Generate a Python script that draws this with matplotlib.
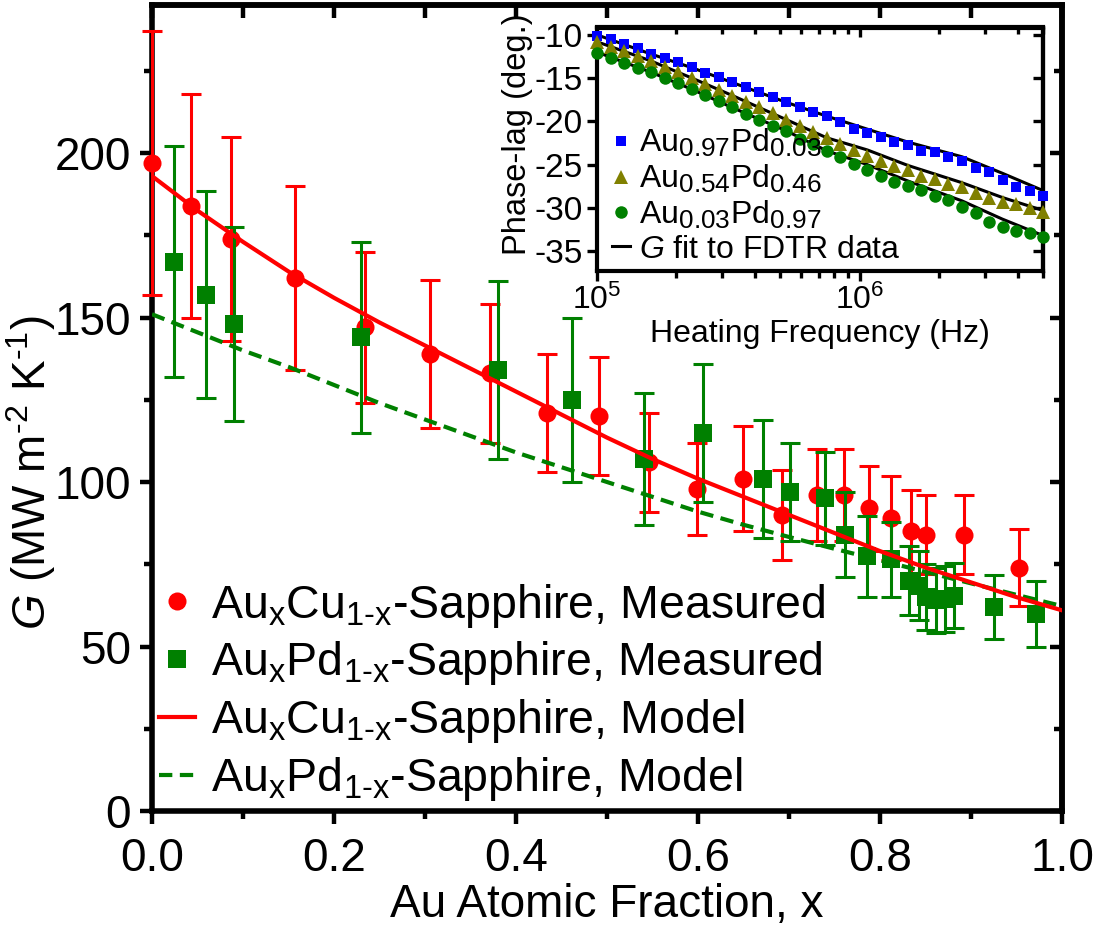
import matplotlib
matplotlib.use('Agg')
import matplotlib.pyplot as plt
import matplotlib._mathtext as _mt
from matplotlib.ticker import MultipleLocator, LogLocator, NullFormatter, LogFormatterMathtext, FormatStrFormatter

plt.rcParams['font.family'] = ['Liberation Sans', 'DejaVu Sans']
plt.rcParams['mathtext.fontset'] = 'custom'
plt.rcParams['mathtext.rm'] = 'Liberation Sans'
plt.rcParams['mathtext.it'] = 'Liberation Sans:italic'
plt.rcParams['mathtext.bf'] = 'Liberation Sans:bold'
plt.rcParams['mathtext.sf'] = 'Liberation Sans'
plt.rcParams['axes.unicode_minus'] = False

# ---------------- main panel data ----------------
cu_x = [0.000, 0.043, 0.087, 0.157, 0.234, 0.305, 0.371, 0.434, 0.491, 0.546, 0.599,
        0.649, 0.692, 0.731, 0.760, 0.788, 0.812, 0.834, 0.850, 0.892, 0.953]
cu_g = [197, 184, 174, 162, 147, 139, 133, 121, 120, 106, 98,
        101, 90, 96, 96, 92, 89, 85, 84, 84, 74]
cu_err = [40, 34, 31, 28, 23, 22.5, 21, 18, 18, 15, 14,
          16, 13.7, 14, 14, 13, 12.7, 12.6, 12, 12, 11.7]

pd_x = [0.024, 0.059, 0.090, 0.230, 0.380, 0.461, 0.541, 0.605, 0.671, 0.701, 0.740,
        0.761, 0.786, 0.812, 0.832, 0.843, 0.851, 0.861, 0.871, 0.881, 0.925, 0.971]
pd_g = [167, 157, 148, 144, 134, 125, 107, 115, 101, 97, 95,
        84, 77.5, 76.5, 70, 68.5, 65, 64, 64.5, 65.5, 62, 60]
pd_err = [35, 31.5, 29.5, 29, 27, 25, 20, 21, 18, 15, 14,
          13, 12.3, 11.4, 10.5, 10.5, 10, 10, 10, 10, 9.7, 10]

model_x = [0.00, 0.05, 0.10, 0.15, 0.20, 0.25, 0.30, 0.35, 0.40, 0.45, 0.50,
           0.55, 0.60, 0.65, 0.70, 0.75, 0.80, 0.85, 0.90, 0.95, 1.00]
cu_model = [193, 182.5, 173, 164, 156, 148.5, 141.5, 134.5, 127.5, 120.5, 113.5,
            107, 101, 95.5, 90, 84.5, 79, 74, 69.5, 65, 61]
pd_model = [151, 145.5, 140, 135, 129.5, 124, 119, 114, 109, 104.5, 100,
            95.5, 91, 87, 83.3, 79.7, 76.2, 72.7, 69.2, 65.7, 62.3]

# ---------------- inset data ----------------
freq_hz = [1.000e5, 1.126e5, 1.268e5, 1.427e5, 1.607e5, 1.809e5, 2.037e5, 2.293e5,
           2.582e5, 2.907e5, 3.273e5, 3.685e5, 4.149e5, 4.671e5, 5.259e5, 5.921e5,
           6.667e5, 7.506e5, 8.451e5, 9.515e5, 1.071e6, 1.206e6, 1.358e6, 1.529e6,
           1.722e6, 1.938e6, 2.182e6, 2.457e6, 2.767e6, 3.115e6, 3.507e6, 3.949e6,
           4.446e6, 5.006e6]
phase_au97 = [-10.19, -10.46, -11.08, -11.54, -12.23, -12.69, -13.15, -13.77, -14.42,
              -14.92, -15.50, -16.04, -16.65, -17.23, -17.80, -18.38, -18.92, -19.42,
              -20.11, -20.84, -21.34, -21.80, -22.38, -22.76, -23.38, -23.57, -24.07,
              -24.53, -25.38, -25.84, -26.80, -27.57, -28.07, -28.68]
phase_au54 = [-10.85, -11.35, -11.92, -12.50, -13.08, -13.73, -14.34, -15.00, -15.69,
              -16.42, -17.04, -17.76, -18.38, -19.03, -19.80, -20.57, -21.22, -21.92,
              -22.57, -23.34, -23.96, -24.53, -25.11, -25.65, -26.26, -26.61, -27.19,
              -27.57, -28.34, -28.84, -29.34, -29.61, -30.00, -30.46]
phase_au03 = [-12.11, -12.69, -13.27, -13.84, -14.34, -15.00, -15.57, -16.26, -17.00,
              -17.69, -18.38, -19.15, -19.80, -20.49, -21.15, -21.99, -22.61, -23.38,
              -24.15, -24.88, -25.65, -26.34, -26.99, -27.49, -27.95, -28.65, -29.11,
              -29.88, -30.57, -31.61, -32.22, -32.68, -32.88, -33.34]

fit_freq = [1.0e5, 1.6e5, 2.3e5, 3.27e5, 5.26e5, 7.5e5, 1.07e6, 1.53e6, 2.46e6, 3.5e6, 5.0e6]
fit_au97 = [-10.0, -12.2, -13.8, -15.5, -17.8, -19.4, -20.9, -22.4, -24.1, -26.0, -28.0]
fit_au54 = [-10.8, -13.0, -15.0, -17.0, -19.8, -21.9, -23.3, -25.1, -27.1, -28.8, -30.3]
fit_au03 = [-12.0, -14.3, -16.3, -18.4, -21.1, -23.4, -25.0, -26.9, -29.2, -31.3, -33.2]

RED = '#ff0000'
GREEN = '#008000'
BLUE = '#0000ff'
OLIVE = '#808000'
HY = '\u2010'  # typographic hyphen for sub/superscripts

fig = plt.figure(figsize=(11.04, 9.32), dpi=100)
ax = fig.add_axes([152/1104, 1 - 811/932, 910/1104, 806/932])

ax.errorbar(cu_x, cu_g, yerr=cu_err, fmt='none', ecolor=RED, elinewidth=2.2,
            capsize=7.2, capthick=2.2, clip_on=False, zorder=3)
h_cu, = ax.plot(cu_x, cu_g, 'o', color=RED, ms=13, mew=0, clip_on=False, zorder=4)
ax.errorbar(pd_x, pd_g, yerr=pd_err, fmt='none', ecolor=GREEN, elinewidth=2.2,
            capsize=7.2, capthick=2.2, clip_on=False, zorder=5)
h_pd, = ax.plot(pd_x, pd_g, 's', color=GREEN, ms=12.5, mew=0, clip_on=False, zorder=6)
h_pdm, = ax.plot(model_x, pd_model, '--', color=GREEN, lw=3, dashes=(3.2, 1.8), zorder=7)
h_cum, = ax.plot(model_x, cu_model, '-', color=RED, lw=3, zorder=8)

ax.set_xlim(0, 1.0)
ax.set_ylim(0, 245)
ax.xaxis.set_major_locator(MultipleLocator(0.2))
ax.xaxis.set_minor_locator(MultipleLocator(0.1))
ax.yaxis.set_major_locator(MultipleLocator(50))
ax.yaxis.set_minor_locator(MultipleLocator(25))
ax.xaxis.set_major_formatter(FormatStrFormatter('%.1f'))
ax.tick_params(which='both', direction='out', width=3.2, labelsize=33, top=False, right=False)
ax.tick_params(which='major', length=9, pad=6)
ax.tick_params(which='minor', length=6)
ax.tick_params(axis='x', which='major', pad=10)
for s in ax.spines.values():
    s.set_linewidth(4)

sx = ax.secondary_xaxis('top')
sx.xaxis.set_major_locator(MultipleLocator(0.1))
sx.tick_params(direction='in', length=9, width=3.2, labeltop=False)
sx.spines['top'].set_linewidth(4)
sy = ax.secondary_yaxis('right')
sy.yaxis.set_major_locator(MultipleLocator(50))
sy.yaxis.set_minor_locator(MultipleLocator(25))
sy.tick_params(which='both', direction='in', width=3.2, labelright=False)
sy.tick_params(which='major', length=9)
sy.tick_params(which='minor', length=6)
sy.spines['right'].set_linewidth(4)

ax.set_xlabel('Au Atomic Fraction, x', fontsize=33)
ax.xaxis.set_label_coords(0.5, -0.089)
ax.set_ylabel(r'$\mathit{G}$ (MW m$^{\mathrm{' + HY + r'2}}$ K$^{\mathrm{' + HY + r'1}}$)', fontsize=33)
ax.yaxis.set_label_coords(-0.103, 0.42)

sub = r'$_{\mathrm{1' + HY + r'x}}$'
leg = ax.legend([h_cu, h_pd, h_cum, h_pdm],
                [r'Au$_{\mathrm{x}}$Cu' + sub + '-Sapphire, Measured',
                 r'Au$_{\mathrm{x}}$Pd' + sub + '-Sapphire, Measured',
                 r'Au$_{\mathrm{x}}$Cu' + sub + '-Sapphire, Model',
                 r'Au$_{\mathrm{x}}$Pd' + sub + '-Sapphire, Model'],
                loc='lower left', bbox_to_anchor=(0.008, 0.01), frameon=False,
                fontsize=33.5, handlelength=0.76, handletextpad=0.35,
                labelspacing=0.21, borderpad=0, borderaxespad=0)

# ---------------- inset ----------------
ins = fig.add_axes([597/1104, 1 - 271/932, 446/1104, 243.5/932])
ins.plot(fit_freq, fit_au97, '-', color='black', lw=2.2, zorder=2)
ins.plot(fit_freq, fit_au54, '-', color='black', lw=2.2, zorder=2)
h_fit, = ins.plot(fit_freq, fit_au03, '-', color='black', lw=2.2, zorder=2)
h97, = ins.plot(freq_hz, phase_au97, 's', color=BLUE, ms=7.5, mew=0, zorder=3, clip_on=False)
h54, = ins.plot(freq_hz, phase_au54, '^', color=OLIVE, ms=9.5, mew=0, zorder=3, clip_on=False)
h03, = ins.plot(freq_hz, phase_au03, 'o', color=GREEN, ms=9, mew=0, zorder=3, clip_on=False)
ins.set_xscale('log')
ins.set_xlim(1e5, 5e6)
ins.set_ylim(-37.3, -9.15)
ins.yaxis.set_major_locator(MultipleLocator(5))
ins.xaxis.set_major_locator(LogLocator(base=10, numticks=10))
ins.xaxis.set_minor_locator(LogLocator(base=10, subs=range(2, 10), numticks=20))
ins.xaxis.set_minor_formatter(NullFormatter())
ins.xaxis.set_major_formatter(LogFormatterMathtext())
ins.tick_params(which='both', direction='out', width=2.4, labelsize=23, top=False, right=False)
ins.tick_params(axis='y', labelsize=24)
ins.tick_params(which='major', length=7, pad=3)
ins.tick_params(which='minor', length=5)
for s in ins.spines.values():
    s.set_linewidth(3)
isx = ins.secondary_xaxis('top')
isx.xaxis.set_major_locator(LogLocator(base=10, numticks=10))
isx.xaxis.set_minor_locator(LogLocator(base=10, subs=range(2, 10), numticks=20))
isx.tick_params(which='both', direction='in', width=2.4, labeltop=False)
isx.tick_params(which='major', length=7)
isx.tick_params(which='minor', length=5)
isx.xaxis.set_minor_formatter(NullFormatter())
isx.spines['top'].set_linewidth(3)
isy = ins.secondary_yaxis('right')
isy.yaxis.set_major_locator(MultipleLocator(5))
isy.tick_params(direction='in', length=7, width=2.4, labelright=False)
isy.spines['right'].set_linewidth(3)

ins.set_xlabel('Heating Frequency (Hz)', fontsize=23, labelpad=2)
ins.set_ylabel('Phase-lag (deg.)', fontsize=23.5)
ins.yaxis.set_label_coords(-0.143, 0.56)

ileg = ins.legend([h97, h54, h03, h_fit],
                  [r'Au$_{\mathrm{0.97}}$Pd$_{\mathrm{0.03}}$',
                   r'Au$_{\mathrm{0.54}}$Pd$_{\mathrm{0.46}}$',
                   r'Au$_{\mathrm{0.03}}$Pd$_{\mathrm{0.97}}$',
                   r'$\mathit{G}$ fit to FDTR data'],
                  loc='lower left', bbox_to_anchor=(0.02, 0.0), frameon=False,
                  fontsize=23, handlelength=0.55, handletextpad=0.3,
                  labelspacing=0.12, borderpad=0, borderaxespad=0.2)

# the inset legend uses larger subscripts than the main legend
try:
    _renderer = fig.canvas.get_renderer()
    _old = _mt.SHRINK_FACTOR
    _mt.SHRINK_FACTOR = 0.82
    for _t in ileg.get_texts():
        _t.get_window_extent(_renderer)
    _mt.SHRINK_FACTOR = _old
except Exception:
    pass

fig.savefig('out.png', dpi=100)
